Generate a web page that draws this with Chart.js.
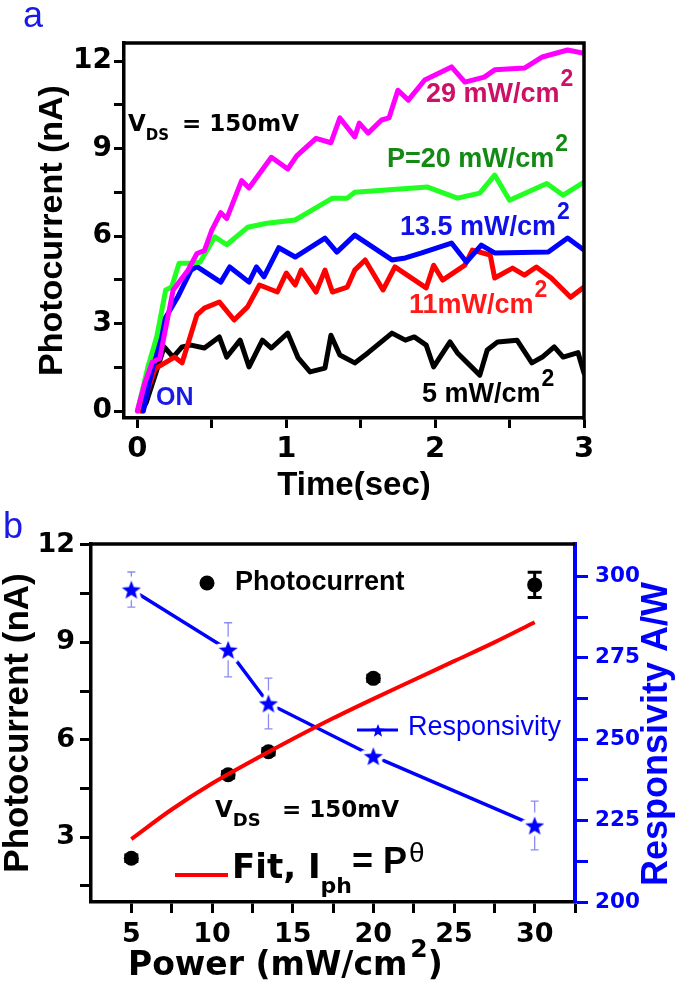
<!DOCTYPE html>
<html>
<head>
<meta charset="utf-8">
<script src="https://cdn.jsdelivr.net/npm/chart.js@4.4.1/dist/chart.umd.min.js"></script>
<style>
html, body { margin: 0; padding: 0; background: #fff; }
#wrap { position: relative; width: 675px; height: 986px; overflow: hidden; background: #fff; }
#chart-a { position: absolute; left: 0; top: 0; }
#chart-b { position: absolute; left: 0; top: 500px; }
</style>
</head>
<body>
<div id="wrap">
  <canvas id="chart-a" width="675" height="500"></canvas>
  <canvas id="chart-b" width="675" height="486"></canvas>
</div>
<script>
// ---- panel a: photocurrent transients (time in s, current in nA) ----
var timeP29 = [0, 0.05, 0.10, 0.15, 0.24, 0.34, 0.40, 0.45, 0.50, 0.56, 0.60, 0.70, 0.75, 0.90, 1.01, 1.07, 1.20, 1.30, 1.36, 1.46, 1.49, 1.55, 1.64, 1.69, 1.75, 1.82, 1.93, 2.11, 2.20, 2.33, 2.40, 2.60, 2.72, 2.89, 3.0];
var currP29 = [0, 0.96, 1.68, 1.8, 4.15, 4.83, 5.4, 5.5, 6.2, 6.8, 6.6, 7.9, 7.65, 8.7, 8.3, 8.75, 9.35, 9.2, 10.05, 9.4, 9.87, 9.53, 9.98, 10.05, 11.0, 10.66, 11.35, 11.8, 11.28, 11.45, 11.7, 11.76, 12.14, 12.38, 12.27];

var timeP20 = [0, 0.07, 0.13, 0.19, 0.23, 0.28, 0.35, 0.42, 0.52, 0.60, 0.74, 0.87, 1.06, 1.21, 1.31, 1.41, 1.46, 1.95, 2.15, 2.30, 2.40, 2.50, 2.75, 2.86, 3.0];
var currP20 = [0, 1.5, 2.55, 4.15, 4.25, 5.07, 5.07, 5.1, 5.97, 5.7, 6.3, 6.44, 6.55, 7.0, 7.3, 7.3, 7.5, 7.68, 7.3, 7.47, 8.09, 7.23, 7.8, 7.4, 7.85];

var timeP13 = [0.04, 0.08, 0.13, 0.18, 0.27, 0.36, 0.40, 0.56, 0.62, 0.75, 0.80, 0.85, 0.95, 1.06, 1.26, 1.34, 1.46, 1.71, 1.80, 1.91, 2.11, 2.21, 2.31, 2.40, 2.76, 2.89, 3.0];
var currP13 = [0, 1.0, 2.0, 3.12, 3.9, 4.83, 4.95, 4.42, 4.94, 4.42, 4.94, 4.6, 5.6, 5.28, 5.93, 5.45, 6.03, 5.18, 5.25, 5.42, 5.76, 5.11, 5.69, 5.42, 5.45, 5.93, 5.52];

var timeP11 = [0.02, 0.12, 0.25, 0.30, 0.40, 0.45, 0.55, 0.65, 0.74, 0.82, 0.94, 1.0, 1.06, 1.10, 1.20, 1.26, 1.31, 1.41, 1.46, 1.53, 1.65, 1.73, 1.94, 1.99, 2.05, 2.20, 2.25, 2.37, 2.40, 2.52, 2.60, 2.68, 2.78, 2.91, 3.0];
var currP11 = [0, 1.45, 1.85, 1.65, 3.3, 3.53, 3.74, 3.12, 3.57, 4.32, 4.08, 4.73, 4.32, 4.83, 4.08, 4.83, 4.08, 4.25, 4.83, 5.18, 4.15, 4.94, 4.22, 5.0, 4.49, 5.0, 5.52, 5.35, 4.56, 4.9, 4.66, 4.94, 4.56, 3.9, 4.25];

var timeP5 = [0.03, 0.06, 0.13, 0.18, 0.24, 0.30, 0.36, 0.45, 0.55, 0.60, 0.69, 0.75, 0.84, 0.90, 1.01, 1.08, 1.16, 1.26, 1.30, 1.36, 1.46, 1.55, 1.71, 1.80, 1.86, 1.94, 1.99, 2.10, 2.15, 2.30, 2.35, 2.42, 2.55, 2.65, 2.72, 2.80, 2.86, 2.96, 3.0];
var currP5 = [0, 0.3, 1.4, 2.2, 1.85, 2.2, 2.26, 2.16, 2.54, 1.85, 2.43, 1.51, 2.43, 2.16, 2.67, 1.82, 1.34, 1.47, 2.6, 1.92, 1.65, 2.0, 2.67, 2.43, 2.54, 2.26, 1.51, 2.37, 1.99, 1.23, 2.09, 2.37, 2.43, 1.65, 1.85, 2.2, 1.85, 2.0, 1.3];

var timeTicks = [0, 0.5, 1, 1.5, 2, 2.5, 3];
var timeLabels = [0, 1, 2, 3];
var currTicksA = [0, 1.5, 3, 4.5, 6, 7.5, 9, 10.5, 12];
var currLabelsA = [0, 3, 6, 9, 12];

// ---- panel b: power dependence ----
var powerLevels = [5, 11, 13.5, 20, 30];
var photocurrent = [2.35, 4.92, 5.63, 7.89, 10.77];
var photocurrentErr = [0.1, 0.1, 0.1, 0.1, 0.39];
var responsivity = [296, 277.5, 261, 244.8, 223.5];
var responsivityErr = [5.4, 8.3, 7.8, 1.5, 7.5];

var fitPower = [5, 7.5, 10, 12.5, 15, 17.5, 20, 22.5, 25, 27.5, 30];
var fitCurrent = [2.94, 3.85, 4.65, 5.35, 6.02, 6.66, 7.26, 7.84, 8.42, 9.0, 9.62];

var powerTicks = [5, 7.5, 10, 12.5, 15, 17.5, 20, 22.5, 25, 27.5, 30, 32.5];
var powerLabels = [5, 10, 15, 20, 25, 30];
var currTicksB = [1.5, 3, 4.5, 6, 7.5, 9, 10.5, 12];
var currLabelsB = [3, 6, 9, 12];
var respTicks = [200, 212.5, 225, 237.5, 250, 262.5, 275, 287.5, 300];
var respLabels = [200, 225, 250, 275, 300];

var ARIAL = '"Liberation Sans", Arial, sans-serif';
var DEJAVU = '"DejaVu Sans", sans-serif';
var BLUE = '#0000ff';
var LETTER_BLUE = '#1a1ae6';

function pairs(xs, ys) {
    return xs.map(function (x, i) { return { x: x, y: ys[i] }; });
}

function fixedTicks(values) {
    return function (axis) { axis.ticks = values.map(function (v) { return { value: v }; }); };
}

function labelOnly(values) {
    return function (v) { return values.indexOf(v) >= 0 ? String(v) : ''; };
}

// draws consecutive text runs on one baseline; dy shifts sub/superscripts
function drawRuns(ctx, x, y, runs) {
    ctx.save();
    ctx.textAlign = 'left';
    ctx.textBaseline = 'alphabetic';
    runs.forEach(function (r) {
        ctx.font = r.font;
        ctx.fillStyle = r.color;
        var rx = r.x != null ? r.x : x + (r.gap || 0);
        ctx.fillText(r.text, rx, y + (r.dy || 0));
        x = rx + ctx.measureText(r.text).width;
    });
    ctx.restore();
}

function powerLabel(ctx, x, y, text, color) {
    drawRuns(ctx, x, y, [
        { text: text, font: 'bold 27px ' + ARIAL, color: color },
        { text: '2', font: 'bold 23px ' + ARIAL, color: color, dy: -16, gap: 1 }
    ]);
}

function vdsLabel(ctx, x, y, size, subSize, eqX) {
    var big = 'bold ' + size + 'px ' + DEJAVU;
    var small = 'bold ' + subSize + 'px ' + DEJAVU;
    drawRuns(ctx, x, y, [
        { text: 'V', font: big, color: '#000' },
        { text: 'DS', font: small, color: '#000', dy: 9 },
        { text: '= 150mV', font: big, color: '#000', x: eqX }
    ]);
}

function makeStar(rOut, fill, halo) {
    var pad = halo + 2;
    var size = Math.ceil(2 * (rOut + pad));
    var c = document.createElement('canvas');
    c.width = size; c.height = size;
    var g = c.getContext('2d');
    var cx = size / 2, cy = size / 2 + 1, rIn = rOut * 0.42;
    g.beginPath();
    for (var i = 0; i < 10; i++) {
        var r = i % 2 === 0 ? rOut : rIn;
        var a = -Math.PI / 2 + i * Math.PI / 5;
        g.lineTo(cx + r * Math.cos(a), cy + r * Math.sin(a));
    }
    g.closePath();
    if (halo) { g.lineWidth = halo * 2; g.lineJoin = 'round'; g.strokeStyle = '#fff'; g.stroke(); }
    g.fillStyle = fill;
    g.fill();
    return c;
}

function drawErrorBars(chart, dsIndex, axisId, errs, color, width, cap) {
    var meta = chart.getDatasetMeta(dsIndex);
    var ys = chart.scales[axisId];
    var data = chart.data.datasets[dsIndex].data;
    var ctx = chart.ctx;
    ctx.save();
    ctx.strokeStyle = color;
    ctx.lineWidth = width;
    meta.data.forEach(function (pt, i) {
        var e = errs[i];
        if (!e) return;
        var top = ys.getPixelForValue(data[i].y + e);
        var bot = ys.getPixelForValue(data[i].y - e);
        ctx.beginPath();
        ctx.moveTo(pt.x, top); ctx.lineTo(pt.x, bot);
        ctx.moveTo(pt.x - cap, top); ctx.lineTo(pt.x + cap, top);
        ctx.moveTo(pt.x - cap, bot); ctx.lineTo(pt.x + cap, bot);
        ctx.stroke();
    });
    ctx.restore();
}

function axisStyle(tickLen, color, fontSize, pad) {
    return {
        grid: { drawOnChartArea: false, drawTicks: true, tickLength: tickLen, tickWidth: 3, tickColor: color },
        border: { display: true, color: color, width: 3.5 },
        ticks: { color: color, autoSkip: false, maxRotation: 0, padding: pad,
                 font: { family: DEJAVU, weight: 'bold', size: fontSize } }
    };
}

function lineSet(label, xs, ys, color) {
    return {
        label: label, data: pairs(xs, ys), borderColor: color, backgroundColor: color, showLine: true,
        borderWidth: 5, pointRadius: 0, tension: 0, borderJoinStyle: 'round', borderCapStyle: 'round'
    };
}

// ---------------- panel a ----------------
var xA = axisStyle(10, '#000', 29, 4);
xA.type = 'linear'; xA.position = 'bottom'; xA.min = -0.09; xA.max = 3.0;
xA.afterBuildTicks = fixedTicks(timeTicks);
xA.ticks.callback = labelOnly(timeLabels);
xA.afterFit = function (s) { s.height = 82; };
xA.title = { display: true, text: 'Time(sec)', color: '#000', padding: { top: 0, bottom: -2 },
             font: { family: ARIAL, weight: 'bold', size: 33, lineHeight: 1 } };

var yA = axisStyle(10, '#000', 28, 2);
yA.type = 'linear'; yA.position = 'left'; yA.min = -0.24; yA.max = 12.62;
yA.afterBuildTicks = fixedTicks(currTicksA);
yA.ticks.callback = labelOnly(currLabelsA);
yA.afterFit = function (s) { s.width = 124; };
yA.title = { display: true, text: 'Photocurrent (nA)', color: '#000', padding: { top: 36, bottom: 0 },
             font: { family: ARIAL, weight: 'bold', size: 34, lineHeight: 1 } };

new Chart(document.getElementById('chart-a'), {
    type: 'scatter',
    data: {
        datasets: [
            lineSet('29 mW/cm2', timeP29, currP29, '#ff00ff'),
            lineSet('20 mW/cm2', timeP20, currP20, '#22ff22'),
            lineSet('13.5 mW/cm2', timeP13, currP13, '#0000ff'),
            lineSet('11 mW/cm2', timeP11, currP11, '#ff0000'),
            lineSet('5 mW/cm2', timeP5, currP5, '#000000')
        ]
    },
    options: {
        responsive: false,
        animation: false,
        events: [],
        layout: { padding: { left: 0, right: 91, top: 43, bottom: 0 } },
        plugins: { legend: { display: false }, tooltip: { enabled: false } },
        scales: { x: xA, y: yA }
    },
    plugins: [{
        id: 'panelA',
        afterDraw: function (chart) {
            var ctx = chart.ctx, a = chart.chartArea;
            // close the frame on top and right
            ctx.save();
            ctx.strokeStyle = '#000';
            ctx.lineWidth = 3.5;
            ctx.beginPath();
            ctx.moveTo(a.left - 1.75, a.top);
            ctx.lineTo(a.right, a.top);
            ctx.lineTo(a.right, a.bottom + 1.75);
            ctx.stroke();
            ctx.restore();

            drawRuns(ctx, 23, 27, [{ text: 'a', font: '36px ' + ARIAL, color: LETTER_BLUE }]);
            vdsLabel(ctx, 128, 131, 23, 15, 182);
            powerLabel(ctx, 426, 102, '29 mW/cm', '#cc1166');
            powerLabel(ctx, 387, 167, 'P=20 mW/cm', '#138a13');
            powerLabel(ctx, 400, 235, '13.5 mW/cm', '#1010e8');
            powerLabel(ctx, 409, 313, '11mW/cm', '#ff1a1a');
            powerLabel(ctx, 422, 402, '5 mW/cm', '#000');
            drawRuns(ctx, 156, 405, [{ text: 'ON', font: 'bold 25px ' + ARIAL, color: '#1a1ae6' }]);
        }
    }]
});

// ---------------- panel b ----------------
var starBig = makeStar(10, BLUE, 4);
var starSmall = makeStar(7, BLUE, 0);

var xB = axisStyle(11, '#000', 27, 6);
xB.type = 'linear'; xB.position = 'bottom'; xB.min = 2.5; xB.max = 32.5;
xB.afterBuildTicks = fixedTicks(powerTicks);
xB.ticks.callback = labelOnly(powerLabels);
xB.afterFit = function (s) { s.height = 84; };

var yB = axisStyle(11, '#000', 27, 5);
yB.type = 'linear'; yB.position = 'left'; yB.min = 1; yB.max = 12.03;
yB.afterBuildTicks = fixedTicks(currTicksB);
yB.ticks.callback = labelOnly(currLabelsB);
yB.afterFit = function (s) { s.width = 91; };
yB.title = { display: true, text: 'Photocurrent (nA)', color: '#000', padding: { top: 1, bottom: 0 },
             font: { family: ARIAL, weight: 'bold', size: 35, lineHeight: 1 } };

var y2B = axisStyle(13, BLUE, 21.5, 7);
y2B.type = 'linear'; y2B.position = 'right'; y2B.min = 200; y2B.max = 310;
y2B.border.width = 4;
y2B.afterBuildTicks = fixedTicks(respTicks);
y2B.ticks.callback = labelOnly(respLabels);
y2B.afterFit = function (s) { s.width = 100; };

new Chart(document.getElementById('chart-b'), {
    type: 'scatter',
    data: {
        datasets: [
            {
                label: 'Fit', data: pairs(fitPower, fitCurrent), yAxisID: 'y', showLine: true,
                borderColor: '#ff0000', borderWidth: 4, pointRadius: 0, cubicInterpolationMode: 'monotone'
            },
            {
                label: 'Responsivity', data: pairs(powerLevels, responsivity), yAxisID: 'y2', showLine: true,
                borderColor: BLUE, borderWidth: 3.5, pointStyle: starBig, pointRadius: 10, tension: 0
            },
            {
                label: 'Photocurrent', data: pairs(powerLevels, photocurrent), yAxisID: 'y', showLine: false,
                pointRadius: 7.5, pointBackgroundColor: '#000', pointBorderWidth: 0, borderColor: '#000'
            }
        ]
    },
    options: {
        responsive: false,
        animation: false,
        events: [],
        layout: { padding: { left: 0, right: 0, top: 44, bottom: 0 } },
        plugins: { legend: { display: false }, tooltip: { enabled: false } },
        scales: { x: xB, y: yB, y2: y2B }
    },
    plugins: [{
        id: 'panelB',
        beforeDatasetsDraw: function (chart) {
            drawErrorBars(chart, 1, 'y2', responsivityErr, '#8c8cf0', 1.3, 4);
            drawErrorBars(chart, 2, 'y', photocurrentErr, '#000', 3, 7);
        },
        afterDraw: function (chart) {
            var ctx = chart.ctx, a = chart.chartArea;
            ctx.save();
            ctx.strokeStyle = '#000';
            ctx.lineWidth = 3.5;
            ctx.beginPath();
            ctx.moveTo(a.left - 1.75, a.top);
            ctx.lineTo(a.right, a.top);
            ctx.stroke();

            // legend: photocurrent
            ctx.fillStyle = '#000';
            ctx.beginPath();
            ctx.arc(207, 83, 7.5, 0, Math.PI * 2);
            ctx.fill();
            // legend: responsivity
            ctx.strokeStyle = BLUE;
            ctx.lineWidth = 3;
            ctx.beginPath();
            ctx.moveTo(357, 230);
            ctx.lineTo(398, 230);
            ctx.stroke();
            ctx.drawImage(starSmall, 378 - starSmall.width / 2, 230 - starSmall.height / 2);
            // legend: fit
            ctx.strokeStyle = '#ff0000';
            ctx.lineWidth = 4;
            ctx.beginPath();
            ctx.moveTo(175, 375);
            ctx.lineTo(228, 375);
            ctx.stroke();
            ctx.restore();

            drawRuns(ctx, 3, 38, [{ text: 'b', font: '36px ' + ARIAL, color: LETTER_BLUE }]);
            drawRuns(ctx, 235, 90, [{ text: 'Photocurrent', font: 'bold 27px ' + ARIAL, color: '#000' }]);
            drawRuns(ctx, 408, 235, [{ text: 'Responsivity', font: '27px ' + ARIAL, color: BLUE }]);
            vdsLabel(ctx, 215, 317, 23, 18, 282);
            drawRuns(ctx, 232, 378, [
                { text: 'Fit, I', font: 'bold 34px ' + DEJAVU, color: '#000' },
                { text: 'ph', font: 'bold 22px ' + DEJAVU, color: '#000', dy: 15 },
                { text: '= P', font: 'bold 36px ' + ARIAL, color: '#000', dy: -5 },
                { text: '\u03b8', font: '28px ' + ARIAL, color: '#000', dy: -16, gap: 2 }
            ]);

            // x title with raised exponent
            drawRuns(ctx, 128, 475, [
                { text: 'Power (mW/cm', font: 'bold 33px ' + DEJAVU, color: '#000' },
                { text: '2', font: 'bold 25px ' + DEJAVU, color: '#000', dy: -18, gap: 3 },
                { text: ')', font: 'bold 33px ' + DEJAVU, color: '#000', gap: 0 }
            ]);

            // right title reads bottom-to-top like the left one
            ctx.save();
            ctx.translate(657, 234);
            ctx.rotate(-Math.PI / 2);
            ctx.font = 'bold 36px ' + ARIAL;
            ctx.fillStyle = BLUE;
            ctx.textAlign = 'center';
            ctx.textBaseline = 'middle';
            ctx.fillText('Responsivity A/W', 0, 0);
            ctx.restore();
        }
    }]
});
</script>
</body>
</html>
